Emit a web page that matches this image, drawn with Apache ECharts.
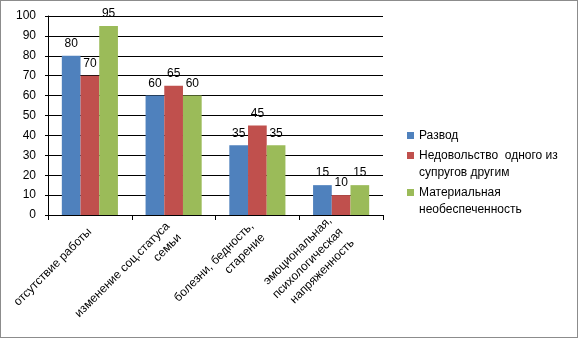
<!DOCTYPE html>
<html>
<head>
<meta charset="utf-8">
<script src="https://cdn.jsdelivr.net/npm/echarts@6/dist/echarts.min.js"></script>
<style>
  html, body { margin: 0; padding: 0; background: #fff; }
  #chart { width: 576px; height: 336px; border: 1px solid #8c8c8c; }
</style>
</head>
<body>
<div id="chart"></div>
<script>
var categories = ['отсутствие работы', 'изменение соц.статуса\nсемьи', 'болезни, бедность,\nстарение', 'эмоциональная,\nпсихологическая\nнапряженность'];
var seriesNames = ['Развод', 'Недовольство  одного из супругов другим', 'Материальная необеспеченность'];
var legendText = ['Развод', 'Недовольство  одного из\nсупругов другим', 'Материальная\nнеобеспеченность'];
var razvod = [80, 60, 35, 15];
var nedovolstvo = [70, 65, 45, 10];
var material = [95, 60, 35, 15];
var colors = ['#4f81bd', '#c0504d', '#9bbb59'];

var chart = echarts.init(document.getElementById('chart'));
var font = 'Liberation Sans';

// Excel centres the lines of a rotated label but pins its end to the tick:
// centre-align the text and pull it back by its own width
var ctx = document.createElement('canvas').getContext('2d');
ctx.font = '12px "' + font + '"';
var categoryData = categories.map(function (c) {
    var w = 0;
    c.split('\n').forEach(function (s) { w = Math.max(w, ctx.measureText(s).width); });
    return { value: c, textStyle: { padding: [0, 0, 0, -w] } };
});

function bar(name, data) {
    return {
        name: name,
        type: 'bar',
        data: data,
        barGap: '0%',
        barCategoryGap: '33%',
        label: {
            show: true,
            position: 'top',
            distance: 6,
            color: '#000',
            fontFamily: font,
            fontSize: 12
        }
    };
}

chart.setOption({
    animation: false,
    color: colors,
    textStyle: { fontFamily: font },
    grid: { left: 47, right: 194, top: 15, bottom: 122, containLabel: false, outerBoundsMode: 'none' },
    legend: {
        orient: 'vertical',
        left: 406,
        top: 126,
        padding: 0,
        itemWidth: 7,
        itemHeight: 7,
        itemGap: -14,
        icon: 'rect',
        data: seriesNames,
        // an empty first line keeps the marker level with the first text line
        formatter: function (n) {
            var t = legendText[seriesNames.indexOf(n)];
            return t.indexOf('\n') >= 0 ? ' \n' + t : t;
        },
        textStyle: { fontSize: 12, color: '#000', lineHeight: 17 }
    },
    xAxis: {
        type: 'category',
        data: categoryData,
        axisLine: { lineStyle: { color: '#000' } },
        axisTick: { show: true, length: 5, lineStyle: { color: '#000' } },
        axisLabel: {
            rotate: 45,
            color: '#000',
            fontSize: 12,
            lineHeight: 16,
            margin: 15,
            interval: 0,
            align: 'center',
            verticalAlign: 'top'
        }
    },
    yAxis: {
        type: 'value',
        min: 0,
        max: 100,
        interval: 10,
        axisLine: { show: true, lineStyle: { color: '#000' } },
        axisTick: { show: true, length: 3, lineStyle: { color: '#000' } },
        splitLine: { lineStyle: { color: '#000', width: 1 } },
        axisLabel: { color: '#000', fontSize: 12, margin: 12 }
    },
    series: [
        bar(seriesNames[0], razvod),
        bar(seriesNames[1], nedovolstvo),
        bar(seriesNames[2], material)
    ]
});
</script>
</body>
</html>
